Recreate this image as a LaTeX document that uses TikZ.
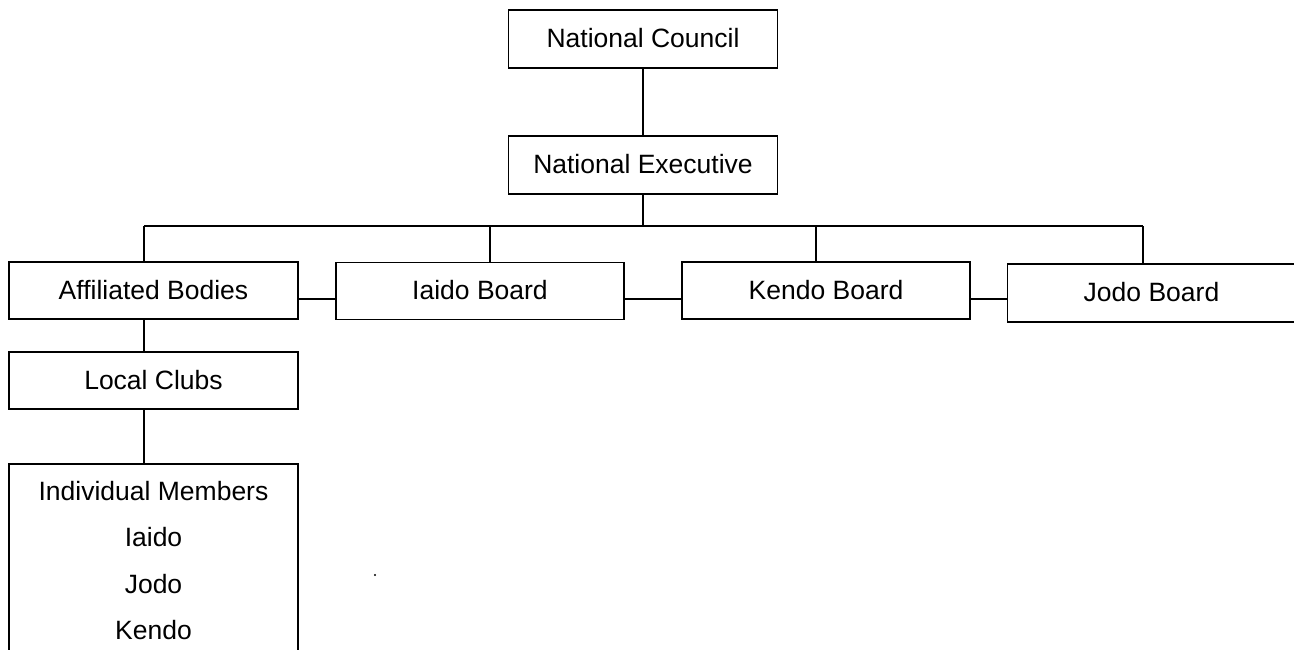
\documentclass[tikz,border=0pt]{standalone}
\usepackage{fontspec}
\setmainfont{Liberation Sans}
\begin{document}
\begin{tikzpicture}[x=1pt,y=-1pt,
  every node/.style={font=\fontsize{26.5}{32}\selectfont},
  box/.style={draw, line width=1.8pt, rectangle, inner sep=0pt, text height=19pt, text depth=2pt, minimum width=289, minimum height=57},
  conn/.style={line width=1.8pt}]
\useasboundingbox (0,0) rectangle (1294,650);
\clip (0,0) rectangle (1294,650);
\node[box, minimum width=269, minimum height=58] (NC) at (643,39) {National Council};
\node[box, minimum width=269, minimum height=58] (NE) at (643,165) {National Executive};
\node[box] (AB) at (153.5,290.5) {Affiliated Bodies};
\node[box, minimum width=288] (IB) at (480,291) {Iaido Board};
\node[box, minimum width=288] (KB) at (826,290.5) {Kendo Board};
\node[box, minimum width=288, minimum height=58] (JB) at (1151.5,293) {Jodo Board};
\node[box] (LC) at (153.5,380.5) {Local Clubs};
\node[box, minimum height=200, anchor=north] (IM) at (153.5,463) {};
\node[anchor=base] (t1) at (153.5,500) {Individual Members};
\node[anchor=base] (t2) at (153.5,546.5) {Iaido};
\node[anchor=base] (t3) at (153.5,593) {Jodo};
\node[anchor=base] (t4) at (153.5,639.5) {Kendo};
\fill (375,575) circle (1.2);
% bus
\coordinate (ba) at (144,226);
\coordinate (bi) at (490,226);
\coordinate (bk) at (816,226);
\coordinate (bj) at (1143,226);
\coordinate (bn) at (643,226);
\coordinate (h) at (0,299);
\draw[conn] (NC) -- (NE);
\draw[conn] (NE.south) -- (bn);
\draw[conn] (ba) -- (bj);
\draw[conn] (ba) -- (ba |- AB.north);
\draw[conn] (bi) -- (bi |- IB.north);
\draw[conn] (bk) -- (bk |- KB.north);
\draw[conn] (bj) -- (bj |- JB.north);
\draw[conn] (AB.east |- h) -- (IB.west |- h);
\draw[conn] (IB.east |- h) -- (KB.west |- h);
\draw[conn] (KB.east |- h) -- (JB.west |- h);
\draw[conn] (ba |- AB.south) -- (ba |- LC.north);
\draw[conn] (ba |- LC.south) -- (ba |- IM.north);
\end{tikzpicture}
\end{document}
